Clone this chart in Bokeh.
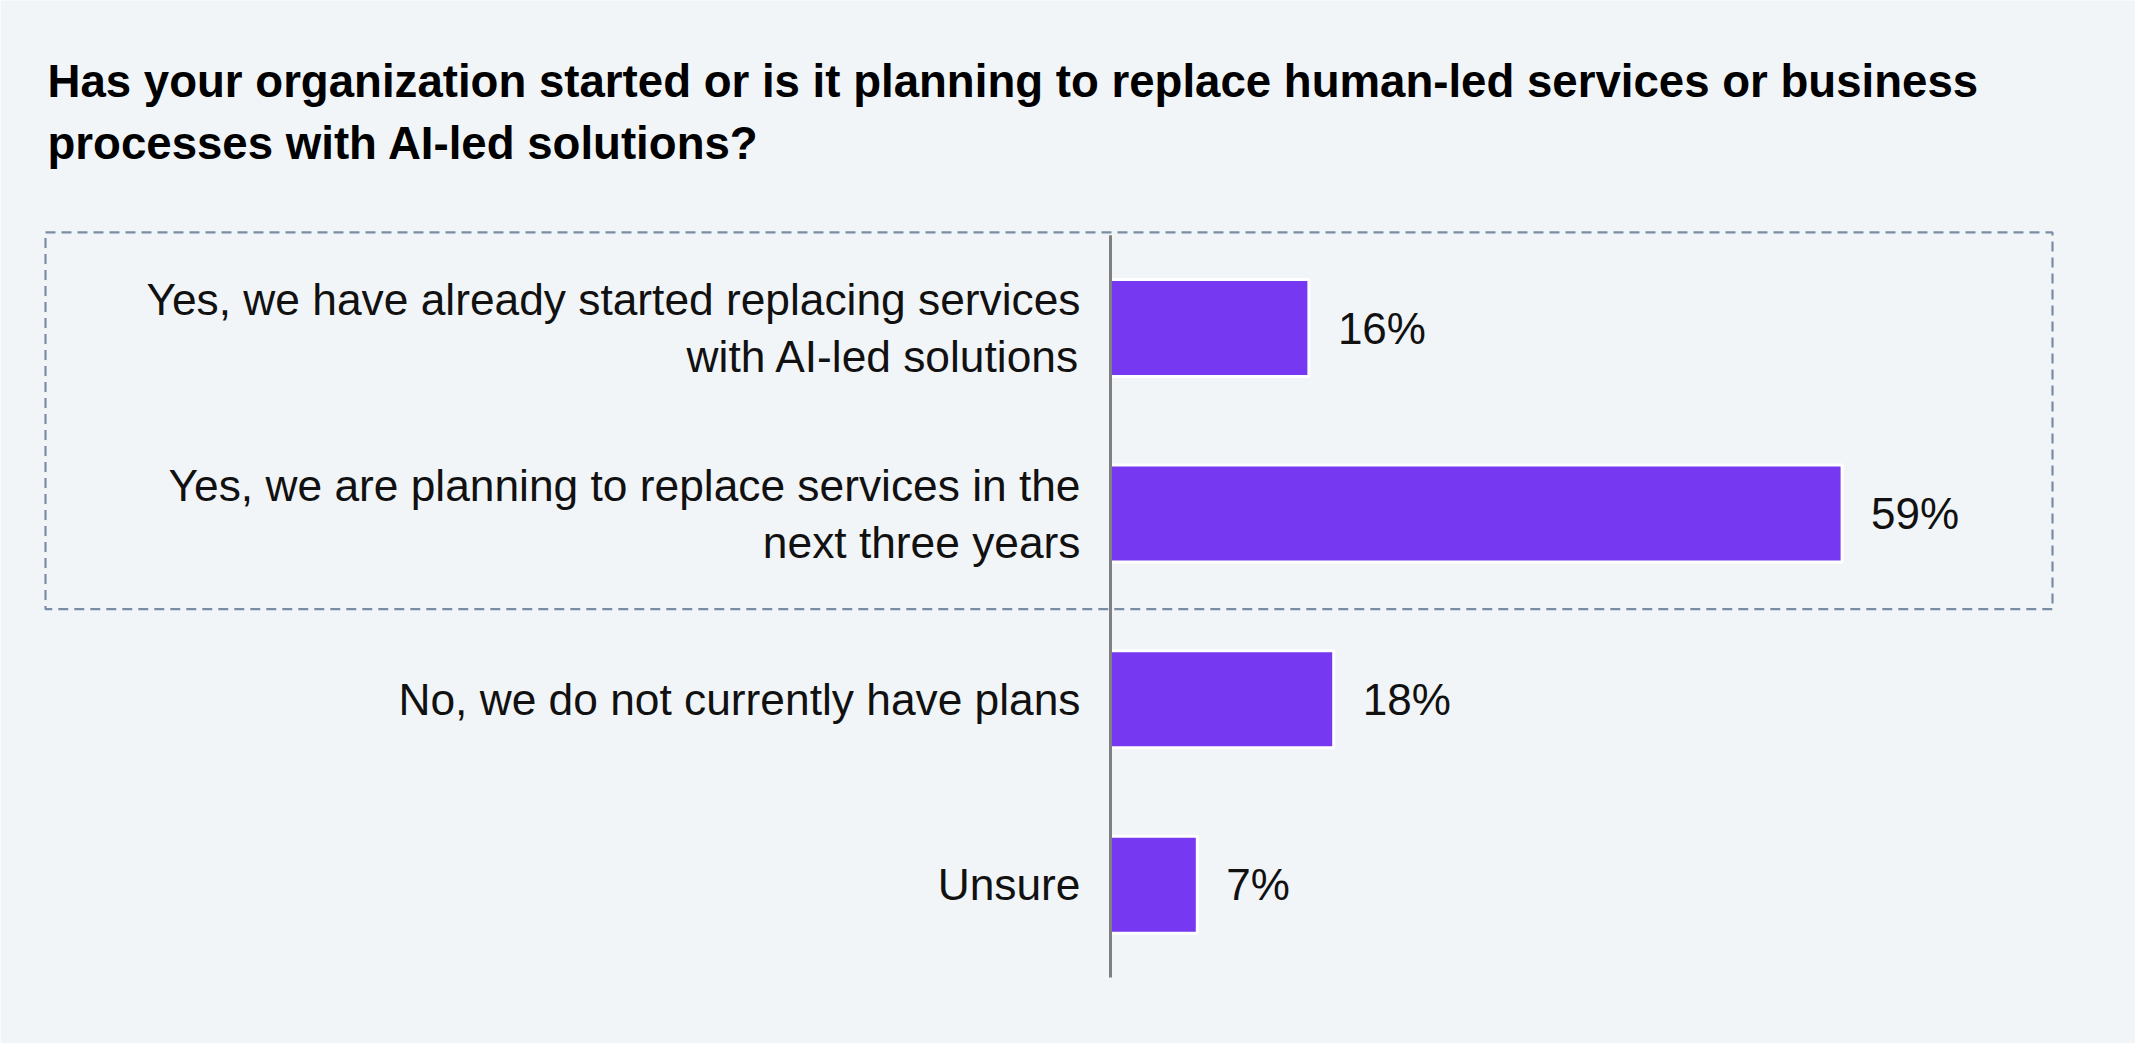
from bokeh.plotting import figure
from bokeh.models import Range1d, ColumnDataSource
from bokeh.core.properties import value
from bokeh.embed import file_html
from bokeh.resources import INLINE

# ---- data -------------------------------------------------------------
title_text = ("Has your organization started or is it planning to replace human-led services or business\n"
              "processes with AI-led solutions?")
categories = [
    "Yes, we have already started replacing services\nwith AI-led solutions",
    "Yes, we are planning to replace services in the\nnext three years",
    "No, we do not currently have plans",
    "Unsure",
]
values = [16, 59, 18, 7]
value_labels = ["16%", "59%", "18%", "7%"]

# ---- layout -----------------------------------------------------------
W, H = 2135, 1043
BG = "#F2F5F8"
BAR = "#7638F0"
FONT = "Liberation Sans"

PX_PER_PCT = 12.4     # horizontal scale of the bars
AXIS_PX = 1110        # pixel position of the zero line
ROW0_PX = 327.5       # pixel centre of the first row
ROW_STEP_PX = 185.6   # distance between rows


def px_x(px):
    return (px - AXIS_PX) / PX_PER_PCT


def px_y(px):
    return (px - ROW0_PX) / ROW_STEP_PX


x_range = Range1d(px_x(0), px_x(W))
y_range = Range1d(px_y(H), px_y(0))  # rows run top to bottom

p = figure(width=W, height=H, x_range=x_range, y_range=y_range,
           x_axis_type=None, y_axis_type=None,
           output_backend="svg", toolbar_location=None,
           min_border=0, background_fill_color=BG, border_fill_color=BG,
           outline_line_color=None)

rows = list(range(len(categories)))
src = ColumnDataSource(dict(
    row=rows,
    zero=[0] * len(rows),
    value=values,
    label=value_labels,
    category=categories,
))

# dashed frame around the two "Yes" answers
p.quad(left=[px_x(45)], right=[px_x(2052)], top=[-0.515], bottom=[1.515],
       fill_color=None, line_color="#7A8DA6", line_width=2.2, line_dash="10 6")

# bars
p.hbar(y="row", left="zero", right="value", height=97 / ROW_STEP_PX,
       source=src, fill_color=BAR, line_color="white", line_width=3)

# zero line
p.segment(x0=[0], y0=[-0.5], x1=[0], y1=[3.5], line_color="#808080", line_width=3)

# value labels
p.text(x="value", y="row", text="label", source=src, x_offset=29,
       text_align="left", text_baseline="middle",
       text_font=value(FONT), text_font_size="44px", text_color="#111111")

# category labels
p.text(x="zero", y="row", text="category", source=src, x_offset=-30,
       text_align="right", text_baseline="middle", text_line_height=1.16,
       text_font=value(FONT), text_font_size="44.3px", text_color="#111111")

# title
p.text(x=[px_x(47)], y=[px_y(112)], text=[title_text],
       text_align="left", text_baseline="middle", text_line_height=1.23,
       text_font=value(FONT), text_font_style="bold", text_font_size="45.6px",
       text_color="#000000")

open("out.html", "w").write(file_html(p, INLINE))
